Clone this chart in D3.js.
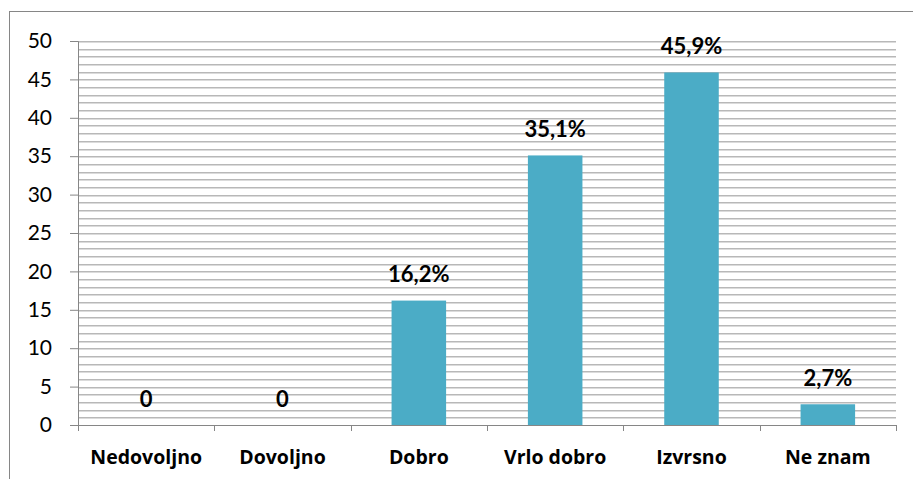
<!DOCTYPE html>
<html>
<head>
<meta charset="utf-8">
<script src="https://cdn.jsdelivr.net/npm/d3@7"></script>
<style>
  body { margin: 0; background: #fff; }
  svg text { font-family: Lato, "Open Sans", sans-serif; fill: #000; }
</style>
</head>
<body>
<div class="chart"></div>
<script>
// data
var categories = ['Nedovoljno', 'Dovoljno', 'Dobro', 'Vrlo dobro', 'Izvrsno', 'Ne znam'];
var values = [0, 0, 16.2, 35.1, 45.9, 2.7];
var labels = ['0', '0', '16,2%', '35,1%', '45,9%', '2,7%'];
var yTicks = [0, 5, 10, 15, 20, 25, 30, 35, 40, 45, 50];

var W = 913, H = 479;
var margin = {top: 41, right: 17, bottom: 54, left: 78},
    width = W - margin.left - margin.right,
    height = H - margin.top - margin.bottom;

var svg = d3.select(".chart")
  .append("svg")
    .attr("width", W)
    .attr("height", H);

// outer chart border (right side runs off the picture)
svg.append("rect")
    .attr("x", 9.5).attr("y", 11.5)
    .attr("width", W + 5).attr("height", H - 11)
    .attr("fill", "none")
    .attr("stroke", "#868686")
    .attr("stroke-width", 1);

var g = svg.append("g")
    .attr("transform", "translate(" + margin.left + "," + margin.top + ")");

var x = d3.scaleBand()
    .domain(categories)
    .range([0, width])
    .paddingInner(0.6)
    .paddingOuter(0.3);

var y = d3.scaleLinear()
    .domain([0, 50])
    .range([height, 0]);

// gridlines every 1 unit
g.append("g").selectAll("line")
  .data(d3.range(1, 51))
  .enter().append("line")
    .attr("x1", 0).attr("x2", width)
    .attr("y1", d => Math.round(y(d)) + 0.7)
    .attr("y2", d => Math.round(y(d)) + 0.7)
    .attr("stroke", "#b8b8b8")
    .attr("stroke-width", 1.4);

// bars
g.selectAll(".bar")
  .data(values)
  .enter().append("rect")
    .attr("class", "bar")
    .attr("x", (d, i) => x(categories[i]))
    .attr("width", x.bandwidth())
    .attr("y", d => y(d))
    .attr("height", d => height - y(d))
    .attr("fill", "#4bacc6");

// y axis
var yAx = g.append("g")
    .call(d3.axisLeft(y).tickValues(yTicks).tickSize(8).tickPadding(18));
yAx.selectAll("path, line").attr("stroke", "#868686");
yAx.selectAll("text")
    .attr("font-size", "21px")
    .style("font-family", "Lato, 'Open Sans', sans-serif")
    .attr("fill", "#000");

// x axis (ticks at category boundaries)
var xAx = g.append("g")
    .attr("transform", "translate(0," + height + ")");
xAx.append("line")
    .attr("x1", 0).attr("x2", width)
    .attr("y1", 0.5).attr("y2", 0.5)
    .attr("stroke", "#868686");
xAx.selectAll(".xt")
  .data(d3.range(0, categories.length + 1))
  .enter().append("line")
    .attr("class", "xt")
    .attr("x1", d => Math.round(d * x.step()) + 0.5)
    .attr("x2", d => Math.round(d * x.step()) + 0.5)
    .attr("y1", 0).attr("y2", 6)
    .attr("stroke", "#868686");
xAx.selectAll("text")
  .data(categories)
  .enter().append("text")
    .attr("x", d => x(d) + x.bandwidth() / 2)
    .attr("y", 39)
    .attr("text-anchor", "middle")
    .style("font-family", "'Open Sans', Lato, sans-serif")
    .attr("font-size", "19.5px")
    .attr("font-weight", "bold")
    .text(d => d);

// data labels
g.selectAll(".lbl")
  .data(values)
  .enter().append("text")
    .attr("class", "lbl")
    .attr("x", (d, i) => x(categories[i]) + x.bandwidth() / 2)
    .attr("y", d => y(d) - 18.5)
    .attr("text-anchor", "middle")
    .attr("font-size", "22px")
    .attr("font-weight", "bold")
    .text((d, i) => labels[i]);
</script>
</body>
</html>
